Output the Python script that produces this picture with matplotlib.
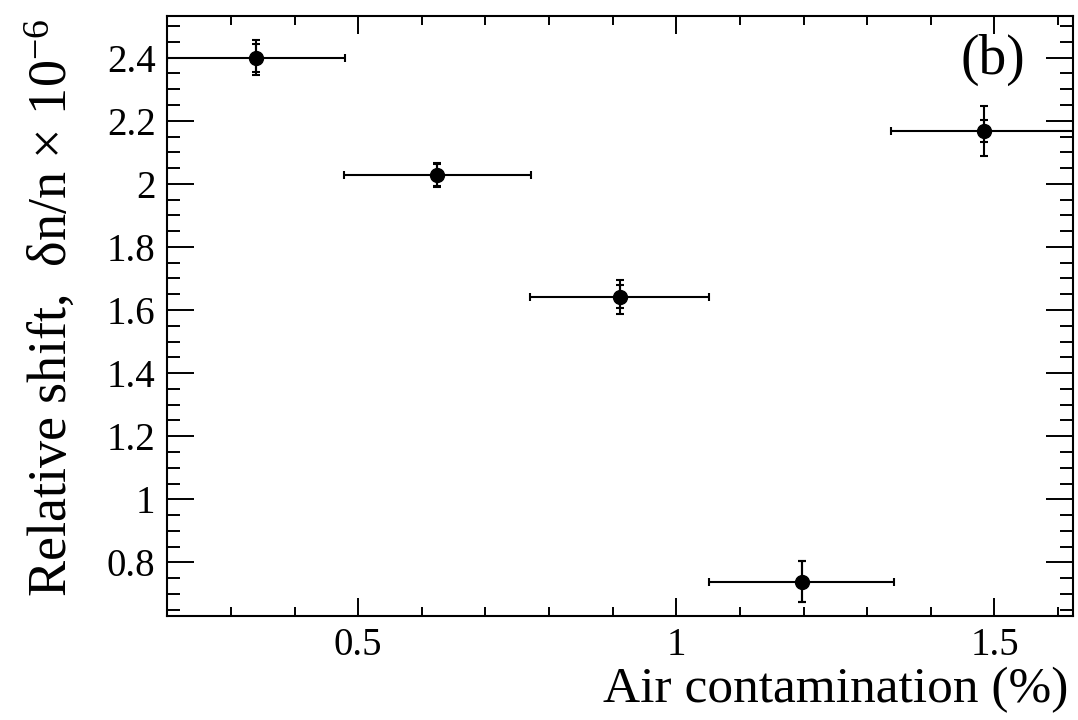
import matplotlib
matplotlib.use("Agg")
import matplotlib.pyplot as plt
import numpy as np
from matplotlib.ticker import MultipleLocator, FuncFormatter

plt.rcParams.update({
    'font.family': 'Liberation Serif',
    'mathtext.fontset': 'custom',
    'mathtext.rm': 'Liberation Serif',
    'mathtext.it': 'Liberation Serif:italic',
    'axes.linewidth': 1.5,
})

# air contamination (%) and relative shift (x 1e-6)
air = [0.339, 0.624, 0.911, 1.197, 1.483]
air_err = [0.140, 0.147, 0.141, 0.145, 0.145]
shift = [2.400, 2.028, 1.642, 0.739, 2.168]
shift_err_tot = [0.056, 0.038, 0.054, 0.066, 0.080]
shift_err_stat = [0.044, 0.036, 0.036, 0.064, 0.035]

fig = plt.figure(figsize=(10.78, 7.2), dpi=100)
ax = fig.add_axes([0.1546, 0.1444, 0.8405, 0.8338])

ax.errorbar(air, shift, xerr=air_err, yerr=shift_err_tot, fmt='o', color='black',
            ms=10, elinewidth=1.5, capsize=3, capthick=1.5, zorder=3)
ax.errorbar(air, shift, yerr=shift_err_stat, fmt='none', ecolor='black',
            elinewidth=1.5, capsize=3, capthick=1.5, zorder=3)

ax.set_xlim(0.199, 1.623)
ax.set_ylim(0.630, 2.533)

ax.xaxis.set_major_locator(MultipleLocator(0.5))
ax.xaxis.set_minor_locator(MultipleLocator(0.1))
ax.yaxis.set_major_locator(MultipleLocator(0.2))
ax.yaxis.set_minor_locator(MultipleLocator(0.05))
fmt = FuncFormatter(lambda v, p: '%g' % round(v, 3))
ax.xaxis.set_major_formatter(fmt)
ax.yaxis.set_major_formatter(fmt)

ax.tick_params(which='both', direction='in', top=True, right=True, width=1.4,
               labelsize=28, pad=8)
ax.tick_params(axis='x', which='major', length=13)
ax.tick_params(axis='x', which='minor', length=6.5)
ax.tick_params(axis='y', which='major', length=19.4)
ax.tick_params(axis='y', which='minor', length=9.6)

fig.text(0.9907, 0.025, 'Air contamination (%)', fontsize=37,
         ha='right', va='baseline')
fig.text(67 / 1078, 1 - 18 / 720,
         r'Relative shift,  δn/n × $\mathregular{10^{-6}}$', fontsize=39,
         rotation=90, rotation_mode='anchor', ha='right', va='baseline')

ax.text(0.912, 0.926, '(b)', transform=ax.transAxes, fontsize=40,
        ha='center', va='center')

fig.savefig('out.png', dpi=100)
